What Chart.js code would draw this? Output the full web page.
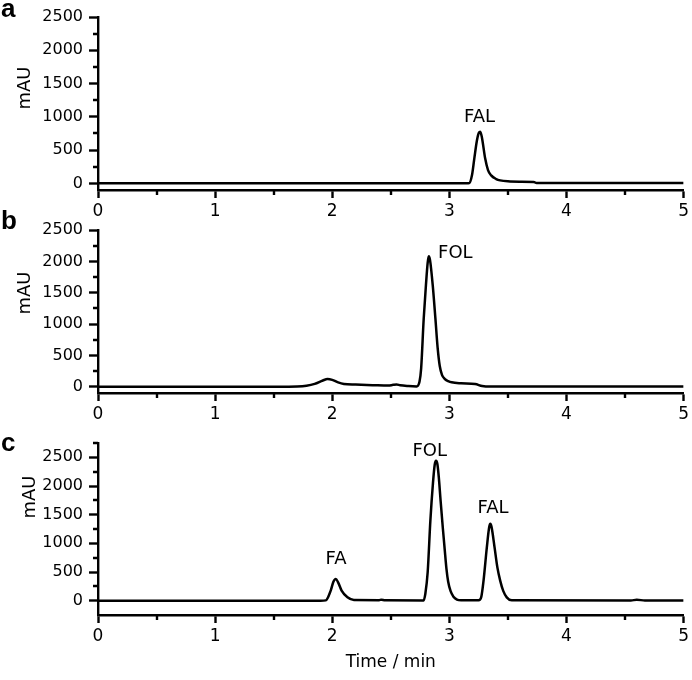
<!DOCTYPE html>
<html>
<head>
<meta charset="utf-8">
<script src="https://cdn.jsdelivr.net/npm/chart.js@4.4.1/dist/chart.umd.min.js"></script>
<style>
  html, body { margin: 0; padding: 0; background: #fff; }
  #wrap { position: relative; width: 692px; height: 680px; overflow: hidden; }
  #wrap canvas { position: absolute; left: 0; }
</style>
</head>
<body>
<div id="wrap">
  <canvas id="chart-a" width="692" height="228" style="top:0px"></canvas>
  <canvas id="chart-b" width="692" height="228" style="top:200px"></canvas>
  <canvas id="chart-c" width="692" height="260" style="top:420px"></canvas>
</div>
<script>
// chromatogram traces (time in min, signal in mAU)
const aTime   = [0, 3.15, 3.17, 3.193, 3.213, 3.235, 3.252, 3.264, 3.278, 3.306, 3.33, 3.357, 3.40, 3.434, 3.50, 3.60, 3.72, 3.745, 5];
const aSignal = [0, 0,    3,    120,   372,   640,   760,   775,   690,   372,   200,  120,   65,   45,    30,   25,   22,   4,     4];

const bTime   = [0, 1.63, 1.70, 1.78, 1.85, 1.92, 1.96, 2.00, 2.05, 2.10, 2.20, 2.35, 2.48, 2.52, 2.55, 2.58, 2.65, 2.72,
                 2.745, 2.759, 2.781, 2.80, 2.815, 2.824, 2.835, 2.858, 2.881, 2.90, 2.918, 2.937, 2.96, 2.99, 3.02, 3.10, 3.22, 3.28, 3.35, 5];
const bSignal = [0, 0,    2,    15,   45,   100,  123,  110,  70,   45,   35,   25,   18,   30,   36,   22,   10,   5,
                 80,    290,   1085,  1620, 1980,  2080,  2020,  1620,  1085,  620,  330,   190,   125,  90,   70,   55,   43,   11,   2,    2];

const cTime   = [0, 1.90, 1.945, 1.987, 2.01, 2.03, 2.05, 2.08, 2.13, 2.185, 2.40, 2.42, 2.45, 2.78,
                 2.795, 2.815, 2.838, 2.86, 2.875, 2.886, 2.898, 2.91, 2.925, 2.945, 2.96, 2.975, 2.99, 3.01, 3.035, 3.065, 3.10,
                 3.25, 3.272, 3.292, 3.32, 3.34, 3.35, 3.36, 3.386, 3.41, 3.434, 3.46, 3.49, 3.533, 4.55, 4.60, 4.67, 5];
const cSignal = [0, 0,    5,     175,   330,  380,  320,  175,  58,   10,    8,    18,   8,    5,
                 120,   500,   1400,  2050, 2370,  2440,  2380,  2150, 1750, 1250,  900,  560,  330,  170,  70,    20,    8,
                 8,    60,    350,   930,  1280, 1340, 1290, 930,   580,  350,   170,  58,   6,     5,    14,   5,    3];

// peak annotations: [time, mAU at text baseline, name]
const aPeaks = [[3.258, 923, 'FAL']];
const bPeaks = [[3.051, 2051, 'FOL']];
const cPeaks = [[2.032, 647, 'FA'], [2.832, 2517, 'FOL'], [3.373, 1526, 'FAL']];

// tick values
const xMajor = [0, 1, 2, 3, 4, 5];
const xMinor = [0.5, 1.5, 2.5, 3.5, 4.5];
const yMajor = [0, 500, 1000, 1500, 2000, 2500];
const yMinor = [250, 750, 1250, 1750, 2250];
const yMinorC = [250, 750, 1250, 1750, 2250, 2750];

const FONT = '"DejaVu Sans", Verdana, sans-serif';
Chart.defaults.font.family = FONT;
Chart.defaults.font.size = 16;
Chart.defaults.color = '#000';

function toPoints(xs, ys) {
  return xs.map((x, i) => ({ x: x, y: ys[i] }));
}

// letters, mAU labels, peak names and minor ticks
const panelText = {
  id: 'panelText',
  afterDraw(chart, args, opts) {
    const ctx = chart.ctx;
    const xs = chart.scales.x, ys = chart.scales.y;
    ctx.save();
    ctx.fillStyle = '#000';
    ctx.strokeStyle = '#000';
    ctx.lineWidth = 2.4;

    // minor ticks
    ctx.beginPath();
    opts.yMinor.forEach(v => {
      const py = Math.round(ys.getPixelForValue(v));
      ctx.moveTo(ys.right, py);
      ctx.lineTo(ys.right - 5, py);
    });
    xMinor.forEach(v => {
      const px = Math.round(xs.getPixelForValue(v));
      ctx.moveTo(px, xs.top);
      ctx.lineTo(px, xs.top + 5);
    });
    ctx.stroke();

    // panel letter
    ctx.font = 'bold 26px "Liberation Sans", Arial, sans-serif';
    ctx.textAlign = 'left';
    ctx.textBaseline = 'alphabetic';
    ctx.fillText(opts.letter, 1, opts.letterY);

    // y title
    ctx.save();
    ctx.font = '18px ' + FONT;
    ctx.translate(opts.mauX, opts.mauY);
    ctx.rotate(-Math.PI / 2);
    ctx.textAlign = 'center';
    ctx.textBaseline = 'middle';
    ctx.fillText('mAU', 0, 0);
    ctx.restore();

    // peak names
    ctx.font = '18px ' + FONT;
    ctx.textAlign = 'center';
    ctx.textBaseline = 'alphabetic';
    opts.peaks.forEach(p => {
      ctx.fillText(p[2], xs.getPixelForValue(p[0]), ys.getPixelForValue(p[1]));
    });
    ctx.restore();
  }
};

function makePanel(id, time, signal, cfg) {
  return new Chart(document.getElementById(id), {
    type: 'line',
    data: {
      datasets: [{
        data: toPoints(time, signal),
        borderColor: '#000',
        borderWidth: 2.5,
        pointRadius: 0,
        cubicInterpolationMode: 'monotone',
        fill: false
      }]
    },
    plugins: [panelText],
    options: {
      responsive: false,
      animation: false,
      events: [],
      layout: { padding: { top: cfg.areaTop, right: 6, left: 0, bottom: 0 } },
      plugins: {
        legend: { display: false },
        tooltip: { enabled: false },
        panelText: {
          letter: cfg.letter, letterY: cfg.letterY,
          mauX: cfg.mauX, mauY: cfg.mauY,
          peaks: cfg.peaks, yMinor: cfg.yMinor
        }
      },
      scales: {
        x: {
          type: 'linear',
          min: 0, max: 5,
          afterBuildTicks: s => { s.ticks = xMajor.map(v => ({ value: v })); },
          afterFit: s => { s.height = cfg.xHeight; },
          grid: { drawOnChartArea: false, tickLength: 8, tickWidth: 2.4, tickColor: '#000' },
          border: { display: true, width: 2.4, color: '#000' },
          ticks: { padding: 3, maxRotation: 0, callback: v => String(v), font: { size: 17 } },
          title: cfg.xTitle ? { display: true, text: 'Time / min', font: { size: 17 }, padding: { top: 0, bottom: 7 } } : { display: false }
        },
        y: {
          min: cfg.yMin, max: cfg.yMax,
          afterBuildTicks: s => { s.ticks = yMajor.map(v => ({ value: v })); },
          afterFit: s => { s.width = 98; },
          grid: { drawOnChartArea: false, tickLength: 9, tickWidth: 2.4, tickColor: '#000' },
          border: { display: true, width: 2.4, color: '#000' },
          ticks: { padding: 6, callback: v => String(v), font: { size: 16 } }
        }
      }
    }
  });
}

makePanel('chart-a', aTime, aSignal, {
  areaTop: 17, xHeight: 38, yMin: -100, yMax: 2500,
  letter: 'a', letterY: 17, mauX: 25, mauY: 88, peaks: aPeaks, yMinor: yMinor
});
makePanel('chart-b', bTime, bSignal, {
  areaTop: 30, xHeight: 35, yMin: -100, yMax: 2500,
  letter: 'b', letterY: 29, mauX: 25, mauY: 93, peaks: bPeaks, yMinor: yMinor
});
makePanel('chart-c', cTime, cSignal, {
  areaTop: 23, xHeight: 65, yMin: -250, yMax: 2750, xTitle: true,
  letter: 'c', letterY: 31, mauX: 30, mauY: 77, peaks: cPeaks, yMinor: yMinorC
});
</script>
</body>
</html>
